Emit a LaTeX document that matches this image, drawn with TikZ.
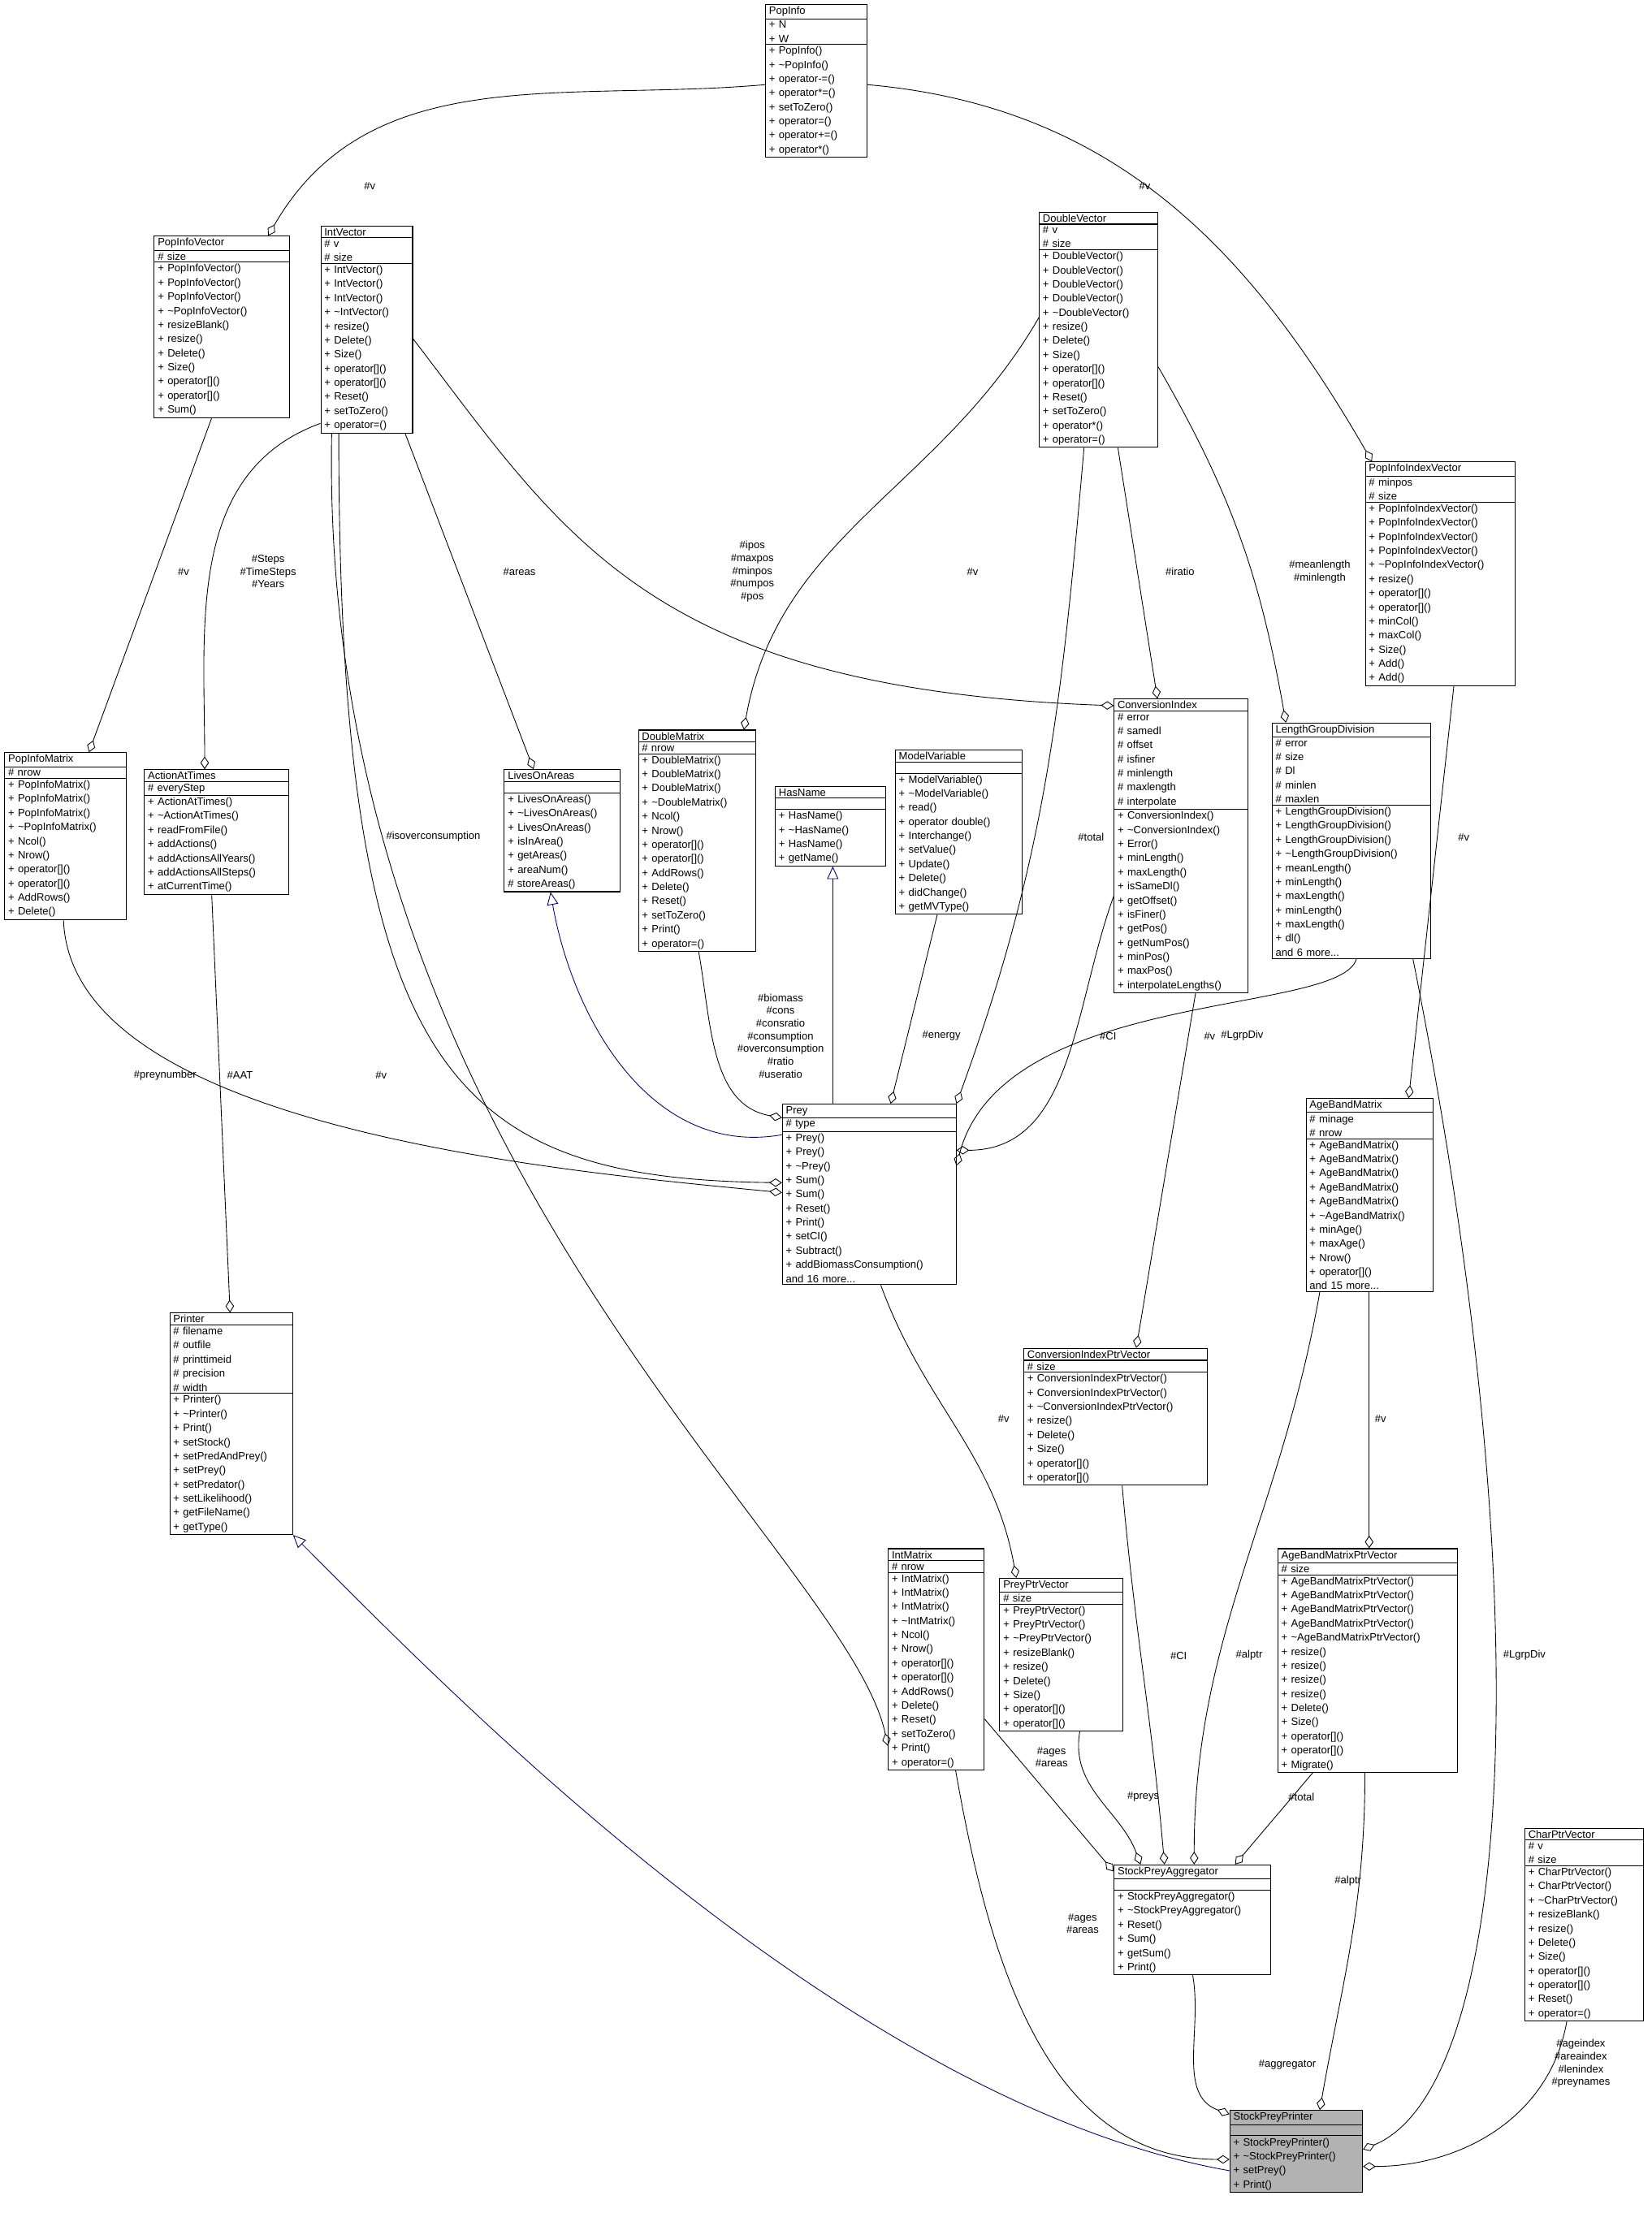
\documentclass[tikz,border=0pt]{standalone}
\usepackage{fontspec}
\setmainfont{Liberation Sans}
\usetikzlibrary{shapes.multipart,arrows.meta}
\newcommand{\tl}{\textasciitilde{}}
\tikzset{
  cls/.style={rectangle split, rectangle split parts=3, draw, line width=0.6pt,
    anchor=north west, inner xsep=2.5pt, inner ysep=1.2pt,
    font=\fontsize{7.5}{10}\selectfont, fill=white},
  agg/.style={draw, line width=0.5pt, -{Diamond[open,length=9pt,width=6pt]}},
  inh/.style={draw=blue!40!black, line width=0.5pt, -{Triangle[open,length=9pt,width=8pt]}},
  lbl/.style={font=\fontsize{7.5}{9}\selectfont, align=center, inner sep=0pt},
}
\begin{document}
\begin{tikzpicture}[x=1pt,y=-1pt]
    \useasboundingbox (0,0) rectangle (1170,1568);

    % classes
    \node[cls,text width=67pt] (PopInfo) at (542,3) {\centering PopInfo\nodepart{two}\raggedright + N\\+ W\nodepart{three}\raggedright + PopInfo()\\+ \tl PopInfo()\\+ operator-=()\\+ operator*=()\\+ setToZero()\\+ operator=()\\+ operator+=()\\+ operator*()};
    \node[cls,text width=91pt] (PopInfoVector) at (109,167) {\centering PopInfoVector\nodepart{two}\raggedright \# size\nodepart{three}\raggedright + PopInfoVector()\\+ PopInfoVector()\\+ PopInfoVector()\\+ \tl PopInfoVector()\\+ resizeBlank()\\+ resize()\\+ Delete()\\+ Size()\\+ operator[]()\\+ operator[]()\\+ Sum()};
    \node[cls,text width=60pt] (IntVector) at (227,160) {\centering IntVector\nodepart{two}\raggedright \# v\\\# size\nodepart{three}\raggedright + IntVector()\\+ IntVector()\\+ IntVector()\\+ \tl IntVector()\\+ resize()\\+ Delete()\\+ Size()\\+ operator[]()\\+ operator[]()\\+ Reset()\\+ setToZero()\\+ operator=()};
    \node[cls,text width=79pt] (DoubleVector) at (736,150) {\centering DoubleVector\nodepart{two}\raggedright \# v\\\# size\nodepart{three}\raggedright + DoubleVector()\\+ DoubleVector()\\+ DoubleVector()\\+ DoubleVector()\\+ \tl DoubleVector()\\+ resize()\\+ Delete()\\+ Size()\\+ operator[]()\\+ operator[]()\\+ Reset()\\+ setToZero()\\+ operator*()\\+ operator=()};
    \node[cls,text width=101pt] (PopInfoIndexVector) at (967,327) {\centering PopInfoIndexVector\nodepart{two}\raggedright \# minpos\\\# size\nodepart{three}\raggedright + PopInfoIndexVector()\\+ PopInfoIndexVector()\\+ PopInfoIndexVector()\\+ PopInfoIndexVector()\\+ \tl PopInfoIndexVector()\\+ resize()\\+ operator[]()\\+ operator[]()\\+ minCol()\\+ maxCol()\\+ Size()\\+ Add()\\+ Add()};
    \node[cls,text width=81pt] (PopInfoMatrix) at (3,533) {\centering PopInfoMatrix\nodepart{two}\raggedright \# nrow\nodepart{three}\raggedright + PopInfoMatrix()\\+ PopInfoMatrix()\\+ PopInfoMatrix()\\+ \tl PopInfoMatrix()\\+ Ncol()\\+ Nrow()\\+ operator[]()\\+ operator[]()\\+ AddRows()\\+ Delete()};
    \node[cls,text width=97pt] (ActionAtTimes) at (102,545) {\centering ActionAtTimes\nodepart{two}\raggedright \# everyStep\nodepart{three}\raggedright + ActionAtTimes()\\+ \tl ActionAtTimes()\\+ readFromFile()\\+ addActions()\\+ addActionsAllYears()\\+ addActionsAllSteps()\\+ atCurrentTime()};
    \node[cls,text width=77pt] (LivesOnAreas) at (357,545) {\centering LivesOnAreas\nodepart{two}\rule{0pt}{5pt}\nodepart{three}\raggedright + LivesOnAreas()\\+ \tl LivesOnAreas()\\+ LivesOnAreas()\\+ isInArea()\\+ getAreas()\\+ areaNum()\\\# storeAreas()};
    \node[cls,text width=78pt] (DoubleMatrix) at (452,517) {\centering DoubleMatrix\nodepart{two}\raggedright \# nrow\nodepart{three}\raggedright + DoubleMatrix()\\+ DoubleMatrix()\\+ DoubleMatrix()\\+ \tl DoubleMatrix()\\+ Ncol()\\+ Nrow()\\+ operator[]()\\+ operator[]()\\+ AddRows()\\+ Delete()\\+ Reset()\\+ setToZero()\\+ Print()\\+ operator=()};
    \node[cls,text width=73pt] (HasName) at (549,557) {\centering HasName\nodepart{two}\rule{0pt}{5pt}\nodepart{three}\raggedright + HasName()\\+ \tl HasName()\\+ HasName()\\+ getName()};
    \node[cls,text width=85pt] (ModelVariable) at (634,531) {\centering ModelVariable\nodepart{two}\rule{0pt}{5pt}\nodepart{three}\raggedright + ModelVariable()\\+ \tl ModelVariable()\\+ read()\\+ operator double()\\+ Interchange()\\+ setValue()\\+ Update()\\+ Delete()\\+ didChange()\\+ getMVType()};
    \node[cls,text width=90pt] (ConversionIndex) at (789,495) {\centering ConversionIndex\nodepart{two}\raggedright \# error\\\# samedl\\\# offset\\\# isfiner\\\# minlength\\\# maxlength\\\# interpolate\nodepart{three}\raggedright + ConversionIndex()\\+ \tl ConversionIndex()\\+ Error()\\+ minLength()\\+ maxLength()\\+ isSameDl()\\+ getOffset()\\+ isFiner()\\+ getPos()\\+ getNumPos()\\+ minPos()\\+ maxPos()\\+ interpolateLengths()};
    \node[cls,text width=107pt] (LengthGroupDivision) at (901,512) {\centering LengthGroupDivision\nodepart{two}\raggedright \# error\\\# size\\\# Dl\\\# minlen\\\# maxlen\nodepart{three}\raggedright + LengthGroupDivision()\\+ LengthGroupDivision()\\+ LengthGroupDivision()\\+ \tl LengthGroupDivision()\\+ meanLength()\\+ minLength()\\+ maxLength()\\+ minLength()\\+ maxLength()\\+ dl()\\and 6 more...};
    \node[cls,text width=118pt] (Prey) at (554,782) {\centering Prey\nodepart{two}\raggedright \# type\nodepart{three}\raggedright + Prey()\\+ Prey()\\+ \tl Prey()\\+ Sum()\\+ Sum()\\+ Reset()\\+ Print()\\+ setCI()\\+ Subtract()\\+ addBiomassConsumption()\\and 16 more...};
    \node[cls,text width=85pt] (AgeBandMatrix) at (925,778) {\centering AgeBandMatrix\nodepart{two}\raggedright \# minage\\\# nrow\nodepart{three}\raggedright + AgeBandMatrix()\\+ AgeBandMatrix()\\+ AgeBandMatrix()\\+ AgeBandMatrix()\\+ AgeBandMatrix()\\+ \tl AgeBandMatrix()\\+ minAge()\\+ maxAge()\\+ Nrow()\\+ operator[]()\\and 15 more...};
    \node[cls,text width=82pt] (Printer) at (120,930) {\centering Printer\nodepart{two}\raggedright \# filename\\\# outfile\\\# printtimeid\\\# precision\\\# width\nodepart{three}\raggedright + Printer()\\+ \tl Printer()\\+ Print()\\+ setStock()\\+ setPredAndPrey()\\+ setPrey()\\+ setPredator()\\+ setLikelihood()\\+ getFileName()\\+ getType()};
    \node[cls,text width=125pt] (ConversionIndexPtrVector) at (725,955) {\centering ConversionIndexPtrVector\nodepart{two}\raggedright \# size\nodepart{three}\raggedright + ConversionIndexPtrVector()\\+ ConversionIndexPtrVector()\\+ \tl ConversionIndexPtrVector()\\+ resize()\\+ Delete()\\+ Size()\\+ operator[]()\\+ operator[]()};
    \node[cls,text width=63pt] (IntMatrix) at (629,1097) {\centering IntMatrix\nodepart{two}\raggedright \# nrow\nodepart{three}\raggedright + IntMatrix()\\+ IntMatrix()\\+ IntMatrix()\\+ \tl IntMatrix()\\+ Ncol()\\+ Nrow()\\+ operator[]()\\+ operator[]()\\+ AddRows()\\+ Delete()\\+ Reset()\\+ setToZero()\\+ Print()\\+ operator=()};
    \node[cls,text width=82pt] (PreyPtrVector) at (708,1118) {\centering PreyPtrVector\nodepart{two}\raggedright \# size\nodepart{three}\raggedright + PreyPtrVector()\\+ PreyPtrVector()\\+ \tl PreyPtrVector()\\+ resizeBlank()\\+ resize()\\+ Delete()\\+ Size()\\+ operator[]()\\+ operator[]()};
    \node[cls,text width=122pt] (AgeBandMatrixPtrVector) at (905,1097) {\centering AgeBandMatrixPtrVector\nodepart{two}\raggedright \# size\nodepart{three}\raggedright + AgeBandMatrixPtrVector()\\+ AgeBandMatrixPtrVector()\\+ AgeBandMatrixPtrVector()\\+ AgeBandMatrixPtrVector()\\+ \tl AgeBandMatrixPtrVector()\\+ resize()\\+ resize()\\+ resize()\\+ resize()\\+ Delete()\\+ Size()\\+ operator[]()\\+ operator[]()\\+ Migrate()};
    \node[cls,text width=106pt] (StockPreyAggregator) at (789,1321) {\centering StockPreyAggregator\nodepart{two}\rule{0pt}{5pt}\nodepart{three}\raggedright + StockPreyAggregator()\\+ \tl StockPreyAggregator()\\+ Reset()\\+ Sum()\\+ getSum()\\+ Print()};
    \node[cls,text width=79pt] (CharPtrVector) at (1080,1295) {\centering CharPtrVector\nodepart{two}\raggedright \# v\\\# size\nodepart{three}\raggedright + CharPtrVector()\\+ CharPtrVector()\\+ \tl CharPtrVector()\\+ resizeBlank()\\+ resize()\\+ Delete()\\+ Size()\\+ operator[]()\\+ operator[]()\\+ Reset()\\+ operator=()};
    \node[cls,text width=89pt,fill=black!30] (StockPreyPrinter) at (871,1495) {\centering StockPreyPrinter\nodepart{two}\rule{0pt}{5pt}\nodepart{three}\raggedright + StockPreyPrinter()\\+ \tl StockPreyPrinter()\\+ setPrey()\\+ Print()};

    % members
    \draw[agg] ([yshift=-57pt]PopInfo.north west) to[out=185,in=60] ([xshift=81pt]PopInfoVector.north west);
    \draw[agg] ([yshift=-57pt]PopInfo.north east) to[out=-5,in=120] ([xshift=5pt]PopInfoIndexVector.north west);
    \draw[agg] ([xshift=41pt]PopInfoVector.south west) -- ([xshift=60pt]PopInfoMatrix.north west);
    \draw[agg] ([yshift=-140pt]IntVector.north west) to[out=200,in=90] ([xshift=43pt]ActionAtTimes.north west);
    \draw[agg] ([xshift=60pt]IntVector.south west) -- ([xshift=21pt]LivesOnAreas.north west);
    \draw[agg] ([yshift=-80pt]IntVector.north east) .. controls (400,380) and (460,488) .. ([yshift=-5pt]ConversionIndex.north west);
    \draw[agg] ([xshift=13pt]IntVector.south west) .. controls (240,760) and (320,835) .. ([yshift=-56pt]Prey.north west);
    \draw[agg] ([xshift=8pt]IntVector.south west) .. controls (225,820) and (600,1100) .. ([yshift=-140pt]IntMatrix.north west);
    \draw[agg] ([yshift=-75pt]DoubleVector.north west) to[out=240,in=80] ([xshift=75pt]DoubleMatrix.north west);
    \draw[agg] ([xshift=56pt]DoubleVector.south west) -- ([xshift=31pt]ConversionIndex.north west);
    \draw[agg] ([yshift=-110pt]DoubleVector.north east) to[out=-60,in=100] ([xshift=10pt]LengthGroupDivision.north west);
    \draw[agg] ([xshift=32pt]DoubleVector.south west) to[out=-95,in=70] (Prey.north east);
    \draw[agg] ([xshift=63pt]PopInfoIndexVector.south west) -- ([xshift=73pt]AgeBandMatrix.north west);
    \draw[agg] ([xshift=42pt]PopInfoMatrix.south west) .. controls (50,800) and (400,830) .. ([yshift=-63pt]Prey.north west);
    \draw[agg] ([xshift=48pt]ActionAtTimes.south west) -- ([xshift=43pt]Printer.north west);
    \draw[agg] ([xshift=43pt]DoubleMatrix.south west) to[out=-80,in=170] ([yshift=-10pt]Prey.north west);
    \draw[agg] ([xshift=30pt]ModelVariable.south west) -- ([xshift=77pt]Prey.north west);
    \draw[agg] ([yshift=-140pt]ConversionIndex.north west) to[out=-110,in=0] ([yshift=-33pt]Prey.north east);
    \draw[agg] ([xshift=60pt]LengthGroupDivision.south west) .. controls (950,720) and (710,700) .. ([yshift=-44pt]Prey.north east);
    \draw[agg] ([xshift=58pt]ConversionIndex.south west) -- ([xshift=80pt]ConversionIndexPtrVector.north west);
    \draw[agg] ([xshift=70pt]Prey.south west) to[out=-70,in=100] ([xshift=12pt]PreyPtrVector.north west);
    \draw[agg] ([xshift=45pt]AgeBandMatrix.south west) -- ([xshift=65pt]AgeBandMatrixPtrVector.north west);
    \draw[agg] ([xshift=100pt]LengthGroupDivision.south west) .. controls (1095,1150) and (1070,1480) .. ([yshift=-28pt]StockPreyPrinter.north east);
    \draw[agg] ([xshift=10pt]AgeBandMatrix.south west) to[out=-100,in=90] ([xshift=57pt]StockPreyAggregator.north west);
    \draw[agg] ([xshift=70pt]ConversionIndexPtrVector.south west) to[out=-85,in=95] ([xshift=36pt]StockPreyAggregator.north west);
    \draw[agg] ([xshift=25pt]AgeBandMatrixPtrVector.south west) -- ([xshift=86pt]StockPreyAggregator.north west);
    \draw[agg] ([xshift=57pt]PreyPtrVector.south west) to[out=-100,in=110] ([xshift=19pt]StockPreyAggregator.north west);
    \draw[agg] ([yshift=-121pt]IntMatrix.north east) -- ([yshift=-5pt]StockPreyAggregator.north west);
    \draw[agg] ([xshift=48pt]IntMatrix.south west) to[out=-80,in=180] ([yshift=-35pt]StockPreyPrinter.north west);
    \draw[agg] ([xshift=56pt]StockPreyAggregator.south west) to[out=-80,in=160] ([yshift=-3pt]StockPreyPrinter.north west);
    \draw[agg] ([xshift=62pt]AgeBandMatrixPtrVector.south west) to[out=-90,in=80] ([xshift=64pt]StockPreyPrinter.north west);
    \draw[agg] ([xshift=30pt]CharPtrVector.south west) to[out=-100,in=0] ([yshift=-40pt]StockPreyPrinter.north east);

    % inheritance
    \draw[inh] ([yshift=-22pt]Prey.north west) to[out=190,in=-80] ([xshift=33pt]LivesOnAreas.south west);
    \draw[inh] ([xshift=36pt]Prey.north west) -- ([xshift=41pt]HasName.south west);
    \draw[inh] ([yshift=-43pt]StockPreyPrinter.north west) .. controls (600,1490) and (320,1200) .. (Printer.south east);

    % member names
    \node[lbl] (l1) at (262,132) {\#v};
    \node[lbl] (l2) at (811,132) {\#v};
    \node[lbl] (l3) at (130,405) {\#v};
    \node[lbl] (l4) at (190,405) {\#Steps\\\#TimeSteps\\\#Years};
    \node[lbl] (l5) at (368,405) {\#areas};
    \node[lbl] (l6) at (533,405) {\#ipos\\\#maxpos\\\#minpos\\\#numpos\\\#pos};
    \node[lbl] (l7) at (689,405) {\#v};
    \node[lbl] (l8) at (836,405) {\#iratio};
    \node[lbl] (l9) at (935,405) {\#meanlength\\\#minlength};
    \node[lbl] (l10) at (307,593) {\#isoverconsumption};
    \node[lbl] (l11) at (773,593) {\#total};
    \node[lbl] (l12) at (1037,593) {\#v};
    \node[lbl] (l13) at (117,762) {\#preynumber};
    \node[lbl] (l14) at (170,762) {\#AAT};
    \node[lbl] (l15) at (270,762) {\#v};
    \node[lbl] (l16) at (553,734) {\#biomass\\\#cons\\\#consratio\\\#consumption\\\#overconsumption\\\#ratio\\\#useratio};
    \node[lbl] (l17) at (667,734) {\#energy};
    \node[lbl] (l18) at (785,734) {\#CI};
    \node[lbl] (l19) at (880,734) {\#LgrpDiv};
    \node[lbl] (l20) at (857,734) {\#v};
    \node[lbl] (l21) at (711,1005) {\#v};
    \node[lbl] (l22) at (978,1005) {\#v};
    \node[lbl] (l23) at (1080,1173) {\#LgrpDiv};
    \node[lbl] (l24) at (885,1173) {\#alptr};
    \node[lbl] (l25) at (835,1173) {\#CI};
    \node[lbl] (l26) at (922,1273) {\#total};
    \node[lbl] (l27) at (810,1273) {\#preys};
    \node[lbl] (l28) at (745,1245) {\#ages\\\#areas};
    \node[lbl] (l29) at (767,1363) {\#ages\\\#areas};
    \node[lbl] (l30) at (912,1463) {\#aggregator};
    \node[lbl] (l31) at (955,1333) {\#alptr};
    \node[lbl] (l32) at (1120,1462) {\#ageindex\\\#areaindex\\\#lenindex\\\#preynames};
\end{tikzpicture}
\end{document}
